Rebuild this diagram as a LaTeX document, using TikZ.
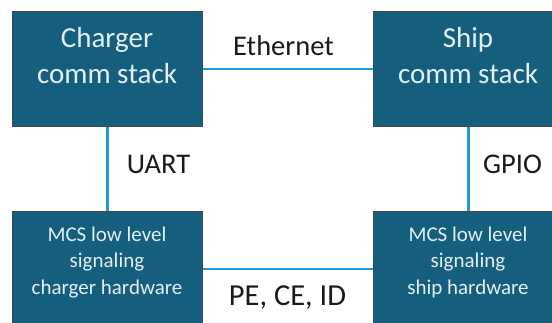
\documentclass[tikz,border=0pt]{standalone}
\usepackage{fontspec}
\setmainfont{Carlito}
\definecolor{boxfill}{HTML}{155E7E}
\definecolor{boxline}{HTML}{3C4A52}
\definecolor{wirecol}{HTML}{1F9DD9}
\definecolor{boxtxt}{HTML}{E2F0F2}
\definecolor{lblcol}{HTML}{1A1A1A}
\begin{document}
\begin{tikzpicture}[x=1pt,y=-1pt,
  box/.style={draw=boxline, fill=boxfill, line width=0.8pt, minimum width=190pt, minimum height=115pt, inner sep=0pt, anchor=north west},
  bigtxt/.style={text=boxtxt, font=\fontsize{29}{36}\selectfont, align=center, anchor=base, inner sep=0pt},
  smalltxt/.style={text=boxtxt, font=\fontsize{21}{26.5}\selectfont, align=center, anchor=base, inner sep=0pt},
  wire/.style={draw=wirecol, line width=2.5pt},
  lbl/.style={text=lblcol, font=\fontsize{28.5}{34}\selectfont, anchor=base, inner sep=0pt}]
\clip (0,0) rectangle (552,322);
\node[box] (cs) at (12,11) {};
\node[box] (ss) at (373,11) {};
\node[box] (ch) at (12,211) {};
\node[box] (sh) at (373,211) {};
\node[bigtxt] (cst) at (107,83) {Charger\\comm stack};
\node[bigtxt] (sst) at (468,83) {Ship\\comm stack};
\node[smalltxt] (cht) at (107,294) {MCS low level\\signaling\\charger hardware};
\node[smalltxt] (sht) at (468,294) {MCS low level\\signaling\\ship hardware};
\draw[wire] (cs.east) -- (ss.west);
\draw[wire] (cs.south) -- (ch.north);
\draw[wire] (ss.south) -- (sh.north);
\draw[wire] (ch.east) -- (sh.west);
\node[lbl] (eth) at (283.5,55) {Ethernet};
\node[lbl] (uart) at (158.5,173) {UART};
\node[lbl] (gpio) at (512.5,173) {GPIO};
\node[lbl, font=\fontsize{30.5}{36}\selectfont] (pe) at (287.5,305) {PE, CE, ID};
\end{tikzpicture}
\end{document}
